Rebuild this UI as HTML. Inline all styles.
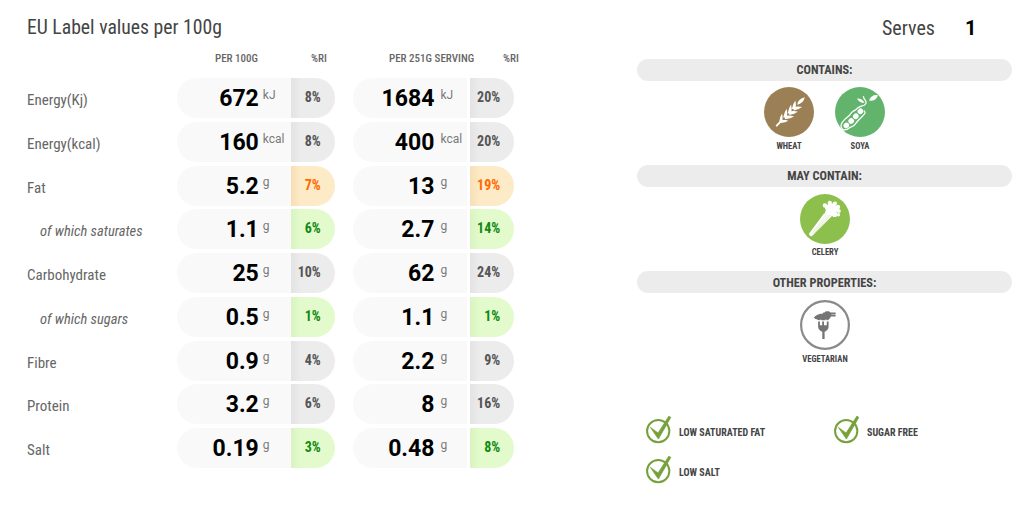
<!DOCTYPE html>
<html><head><meta charset="utf-8"><title>EU Label values</title>
<style>
*{margin:0;padding:0;box-sizing:border-box}
html,body{width:1022px;height:508px;background:#fff;overflow:hidden}
body{position:relative;font-family:"Roboto Condensed", "Liberation Sans", "Arial Narrow", sans-serif;color:#444;}
.abs{position:absolute;white-space:nowrap}
h1{position:absolute;left:27px;top:14px;font-size:19.7px;font-weight:400;color:#444;line-height:28px;white-space:nowrap;letter-spacing:0}
.hd{position:absolute;top:51px;font-size:11px;font-weight:500;color:#666;line-height:16px;white-space:nowrap}
.lab{position:absolute;left:27px;height:40px;line-height:44px;font-size:15px;color:#666;white-space:nowrap}
.lab.it{left:40px;font-style:italic;font-size:14.5px;line-height:46px}
.vc{position:absolute;height:40px;background:#f9f9f9;border-radius:20px 0 0 20px}
.vc.c1{left:177px;width:114px}
.vc.c2{left:353px;width:114px}
.vc .num{position:absolute;right:32.2px;top:1px;line-height:40px;font-family:Roboto,"Roboto Condensed", "Liberation Sans", "Arial Narrow", sans-serif;font-size:23px;font-weight:700;color:#000;}
.vc .unit{position:absolute;left:85.8px;top:6.8px;line-height:20px;font-family:Roboto,"Roboto Condensed", "Liberation Sans", "Arial Narrow", sans-serif;font-size:12px;color:#7a7a7a;}
.vc.c2 .num{right:32.6px}
.vc.c2 .unit{left:87.5px}
.ri{position:absolute;height:40px;width:44px;border-radius:0 20px 20px 0;background:linear-gradient(90deg,#e3e3e3 0,#ececec 10px,#ececec 100%)}
.ri span{position:absolute;right:14.2px;top:-1px;line-height:40px;font-size:14px;font-weight:700;color:#555}
.ri.r1{left:291px}
.ri.r2{left:470px}
.ri.r2 span{right:13.8px}
.ri.o{background:linear-gradient(90deg,#f6dfb6 0,#fdeac7 10px,#fdeac7 100%)}
.ri.o span{color:#ff6a00}
.ri.g{background:linear-gradient(90deg,#d9f3c2 0,#e3fbcc 10px,#e3fbcc 100%)}
.ri.g span{color:#118a12}
.serves{position:absolute;left:882px;top:14px;font-size:20px;color:#444;line-height:28px}
.servesn{position:absolute;left:965px;top:14px;font-family:Roboto,"Roboto Condensed", "Liberation Sans", "Arial Narrow", sans-serif;font-size:20px;font-weight:700;color:#000;line-height:28px}
.bar{position:absolute;left:637px;width:375px;height:22px;border-radius:11px;background:#ececec;text-align:center;line-height:22px;font-size:12.3px;font-weight:700;color:#444}
.ic{position:absolute;width:50px;height:50px;border-radius:50%}
.icl{position:absolute;width:80px;text-align:center;font-size:8.6px;font-weight:700;color:#444;line-height:12px}
.chk{position:absolute;width:30px;height:32px}
.chkt{position:absolute;font-size:10px;font-weight:700;color:#444;line-height:14px;white-space:nowrap}
</style></head>
<body>
<h1>EU Label values per 100g</h1>
<div class="hd" style="left:215px">PER 100G</div>
<div class="hd" style="left:311px">%RI</div>
<div class="hd" style="left:389px">PER 251G SERVING</div>
<div class="hd" style="left:503px">%RI</div>
<div class="lab" style="top:78.00px">Energy(Kj)</div>
<div class="vc c1" style="top:78.00px"><span class="num">672</span><span class="unit">kJ</span></div>
<div class="ri r1 n" style="top:78.00px"><span>8%</span></div>
<div class="vc c2" style="top:78.00px"><span class="num">1684</span><span class="unit">kJ</span></div>
<div class="ri r2 n" style="top:78.00px"><span>20%</span></div>
<div class="lab" style="top:121.75px">Energy(kcal)</div>
<div class="vc c1" style="top:121.75px"><span class="num">160</span><span class="unit">kcal</span></div>
<div class="ri r1 n" style="top:121.75px"><span>8%</span></div>
<div class="vc c2" style="top:121.75px"><span class="num">400</span><span class="unit">kcal</span></div>
<div class="ri r2 n" style="top:121.75px"><span>20%</span></div>
<div class="lab" style="top:165.50px">Fat</div>
<div class="vc c1" style="top:165.50px"><span class="num">5.2</span><span class="unit">g</span></div>
<div class="ri r1 o" style="top:165.50px"><span>7%</span></div>
<div class="vc c2" style="top:165.50px"><span class="num">13</span><span class="unit">g</span></div>
<div class="ri r2 o" style="top:165.50px"><span>19%</span></div>
<div class="lab it" style="top:209.25px">of which saturates</div>
<div class="vc c1" style="top:209.25px"><span class="num">1.1</span><span class="unit">g</span></div>
<div class="ri r1 g" style="top:209.25px"><span>6%</span></div>
<div class="vc c2" style="top:209.25px"><span class="num">2.7</span><span class="unit">g</span></div>
<div class="ri r2 g" style="top:209.25px"><span>14%</span></div>
<div class="lab" style="top:253.00px">Carbohydrate</div>
<div class="vc c1" style="top:253.00px"><span class="num">25</span><span class="unit">g</span></div>
<div class="ri r1 n" style="top:253.00px"><span>10%</span></div>
<div class="vc c2" style="top:253.00px"><span class="num">62</span><span class="unit">g</span></div>
<div class="ri r2 n" style="top:253.00px"><span>24%</span></div>
<div class="lab it" style="top:296.75px">of which sugars</div>
<div class="vc c1" style="top:296.75px"><span class="num">0.5</span><span class="unit">g</span></div>
<div class="ri r1 g" style="top:296.75px"><span>1%</span></div>
<div class="vc c2" style="top:296.75px"><span class="num">1.1</span><span class="unit">g</span></div>
<div class="ri r2 g" style="top:296.75px"><span>1%</span></div>
<div class="lab" style="top:340.50px">Fibre</div>
<div class="vc c1" style="top:340.50px"><span class="num">0.9</span><span class="unit">g</span></div>
<div class="ri r1 n" style="top:340.50px"><span>4%</span></div>
<div class="vc c2" style="top:340.50px"><span class="num">2.2</span><span class="unit">g</span></div>
<div class="ri r2 n" style="top:340.50px"><span>9%</span></div>
<div class="lab" style="top:384.25px">Protein</div>
<div class="vc c1" style="top:384.25px"><span class="num">3.2</span><span class="unit">g</span></div>
<div class="ri r1 n" style="top:384.25px"><span>6%</span></div>
<div class="vc c2" style="top:384.25px"><span class="num">8</span><span class="unit">g</span></div>
<div class="ri r2 n" style="top:384.25px"><span>16%</span></div>
<div class="lab" style="top:428.00px">Salt</div>
<div class="vc c1" style="top:428.00px"><span class="num">0.19</span><span class="unit">g</span></div>
<div class="ri r1 g" style="top:428.00px"><span>3%</span></div>
<div class="vc c2" style="top:428.00px"><span class="num">0.48</span><span class="unit">g</span></div>
<div class="ri r2 g" style="top:428.00px"><span>8%</span></div>
<div class="serves">Serves</div>
<div class="servesn">1</div>
<div class="bar" style="top:59px">CONTAINS:</div>
<div class="ic" style="left:764px;top:87px"><svg width="50" height="50" viewBox="0 0 50 50"><circle cx="25" cy="25" r="25" fill="#9c8055"/><path d="M12.7 38.6L17.6 33.6" stroke="#fff" stroke-width="1.9" stroke-linecap="round"/><path d="M33.10 17.70Q39.44 16.60 40.80 10.30Q34.46 11.40 33.10 17.70ZM31.31 22.55Q32.43 17.09 31.40 13.40Q29.00 16.39 27.89 21.85ZM27.12 26.82Q28.17 21.18 27.10 17.40Q24.73 20.54 23.68 26.18ZM22.72 30.93Q23.77 25.41 22.70 21.70Q20.34 24.75 19.28 30.27ZM18.38 35.03Q19.13 29.82 18.00 26.40Q15.96 29.37 15.22 34.57ZM29.74 23.52Q35.13 22.46 38.10 20.10Q34.46 19.03 29.06 20.08ZM25.29 27.93Q30.75 27.00 33.80 24.70Q30.16 23.54 24.71 24.47ZM20.99 32.14Q26.75 31.52 30.10 29.40Q26.38 28.04 20.61 28.66ZM16.72 36.00Q21.56 35.62 24.40 33.80Q21.31 32.43 16.48 32.80Z" fill="#fff"/></svg></div>
<div class="icl" style="left:749px;top:140px">WHEAT</div>
<div class="ic" style="left:835px;top:87px"><svg width="50" height="50" viewBox="0 0 50 50"><circle cx="25" cy="25" r="25" fill="#62b46d"/><g fill="#fff"><ellipse cx="11.3" cy="38.4" rx="2.9" ry="2.7" transform="rotate(-45 11.3 38.4)"/><ellipse cx="16.2" cy="34.0" rx="2.9" ry="2.7" transform="rotate(-45 16.2 34.0)"/><ellipse cx="20.8" cy="29.3" rx="2.9" ry="2.7" transform="rotate(-45 20.8 29.3)"/><ellipse cx="25.4" cy="24.3" rx="2.9" ry="2.7" transform="rotate(-45 25.4 24.3)"/><path d="M22.00 11.40Q24.40 16.02 29.60 15.80Q27.20 11.18 22.00 11.40Z"/><path d="M34.00 13.60Q40.66 14.50 43.00 8.20Q36.34 7.30 34.00 13.60Z"/></g><g fill="none" stroke="#fff" stroke-width="1.25" stroke-linecap="round"><path d="M8.30 43.00C7.95 42.53 6.50 41.25 6.20 40.20C5.90 39.15 5.92 38.00 6.50 36.70C7.08 35.40 8.75 33.47 9.70 32.40C10.65 31.33 11.43 30.95 12.20 30.30C12.97 29.65 13.58 29.27 14.30 28.50C15.02 27.73 15.85 26.42 16.50 25.70C17.15 24.98 17.50 24.68 18.20 24.20C18.90 23.72 19.92 23.38 20.70 22.80C21.48 22.22 22.07 21.28 22.90 20.70C23.73 20.12 24.65 19.72 25.70 19.30C26.75 18.88 28.32 18.73 29.20 18.20C30.08 17.67 30.75 16.80 31.00 16.10C31.25 15.40 31.00 14.72 30.70 14.00C30.40 13.28 29.57 12.52 29.20 11.80C28.83 11.08 28.62 10.05 28.50 9.70"/><path d="M8.30 43.00C8.95 42.88 11.13 42.70 12.20 42.30C13.27 41.90 13.87 41.07 14.70 40.60C15.53 40.13 16.37 39.98 17.20 39.50C18.03 39.02 19.00 38.35 19.70 37.70C20.40 37.05 20.82 36.30 21.40 35.60C21.98 34.90 22.48 34.27 23.20 33.50C23.92 32.73 24.93 31.77 25.70 31.00C26.47 30.23 27.15 29.62 27.80 28.90C28.45 28.18 29.23 27.35 29.60 26.70C29.97 26.05 30.07 25.47 30.00 25.00C29.93 24.53 29.33 24.08 29.20 23.90"/></g></svg></div>
<div class="icl" style="left:820px;top:140px">SOYA</div>
<div class="bar" style="top:165px">MAY CONTAIN:</div>
<div class="ic" style="left:800px;top:194px"><svg width="50" height="50" viewBox="0 0 50 50"><circle cx="25" cy="25" r="25" fill="#8dbf4c"/><g fill="#fff"><path d="M9.3 39.3L24.2 19.2L31.8 22.2L12.4 41.7C11.2 42.9 8.6 41.8 9.3 39.3Z"/><circle cx="31.4" cy="16.4" r="5.6"/><circle cx="25.0" cy="11.4" r="2.2"/><circle cx="29.8" cy="8.8" r="2.1"/><circle cx="34.9" cy="9.6" r="2.1"/><circle cx="38.0" cy="13.0" r="2.2"/><circle cx="38.8" cy="17.0" r="2.0"/><circle cx="38.4" cy="20.8" r="1.7"/><circle cx="34.6" cy="20.4" r="2.6"/><circle cx="27.4" cy="13.6" r="2.6"/><circle cx="35.6" cy="14.4" r="2.8"/><circle cx="29.8" cy="11.4" r="2.4"/><circle cx="33.2" cy="11.6" r="2.3"/><circle cx="27.6" cy="18.6" r="2.6"/><path d="M29.7 6.6L28.4 9L31 9Z"/><path d="M23.6 9.6L23.4 12.4L26 11Z"/><path d="M36.4 7.8L34 8.6L36 10.6Z"/><path d="M40 12L37.6 11.6L38.4 14.2Z"/></g><g stroke="#8dbf4c" stroke-opacity="0.55" stroke-width="0.45" fill="none"><path d="M12.0 39.6L26.2 20.6"/><path d="M13.6 39.6L28.0 21.2"/><path d="M15.2 39.0L29.6 21.8"/></g></svg></div>
<div class="icl" style="left:785px;top:246px">CELERY</div>
<div class="bar" style="top:271px;line-height:24px">OTHER PROPERTIES:</div>
<div class="ic" style="left:800px;top:300px"><svg width="50" height="50" viewBox="0 0 50 50"><circle cx="25" cy="25" r="23.9" fill="none" stroke="#8a8a8a" stroke-width="2.2"/><g fill="#747474"><path d="M13.8 17.7C15.5 15.8 17.6 14.7 19.7 14.1L21.4 13.4L22.0 14.3L23.4 12.6L24.6 12.4L25.4 11.5L27.4 11.3C29.0 11.2 30.2 12.0 30.4 12.6L35.6 12.6L35.6 14.5L31.4 14.5L31.4 15.0L35.6 15.0L35.6 16.6L30.8 16.6C30.4 18.2 29.2 19.6 27.6 20.2L26.6 20.3L26.0 19.0L25.2 20.3L21.6 20.3L20.8 19.2L20.0 20.3C17.6 19.8 15.4 19.0 13.8 17.7Z"/><path d="M18.1 21.6L19.9 21.6L19.9 25.2L22.2 25.2L22.2 21.6L24.0 21.6L24.0 25.2L26.8 25.2L26.8 21.6L28.6 21.6L28.6 26.6C28.6 29.4 26.8 31.0 24.6 31.8L24.6 38.9L22.3 38.9L22.3 31.8C20.0 31.0 18.1 29.4 18.1 26.6Z"/></g></svg></div>
<div class="icl" style="left:785px;top:353px">VEGETARIAN</div>
<div class="chk" style="left:644px;top:414px"><svg width="30" height="32" viewBox="0 0 30 32"><circle cx="14.20" cy="17.10" r="11.15" fill="none" stroke="#76a13a" stroke-width="2.0"/><polygon points="6.40,13.40 14.10,18.90 24.90,2.10 26.80,3.40 14.40,25.10" fill="#76a13a" stroke="#76a13a" stroke-width="0.7" stroke-linejoin="round"/></svg></div>
<div class="chkt" style="left:679px;top:426px">LOW SATURATED FAT</div>
<div class="chk" style="left:832px;top:414px"><svg width="30" height="32" viewBox="0 0 30 32"><circle cx="14.20" cy="17.10" r="11.15" fill="none" stroke="#76a13a" stroke-width="2.0"/><polygon points="6.40,13.40 14.10,18.90 24.90,2.10 26.80,3.40 14.40,25.10" fill="#76a13a" stroke="#76a13a" stroke-width="0.7" stroke-linejoin="round"/></svg></div>
<div class="chkt" style="left:867px;top:426px">SUGAR FREE</div>
<div class="chk" style="left:644px;top:454px"><svg width="30" height="32" viewBox="0 0 30 32"><circle cx="14.20" cy="17.10" r="11.15" fill="none" stroke="#76a13a" stroke-width="2.0"/><polygon points="6.40,13.40 14.10,18.90 24.90,2.10 26.80,3.40 14.40,25.10" fill="#76a13a" stroke="#76a13a" stroke-width="0.7" stroke-linejoin="round"/></svg></div>
<div class="chkt" style="left:679px;top:466px">LOW SALT</div>
</body></html>
